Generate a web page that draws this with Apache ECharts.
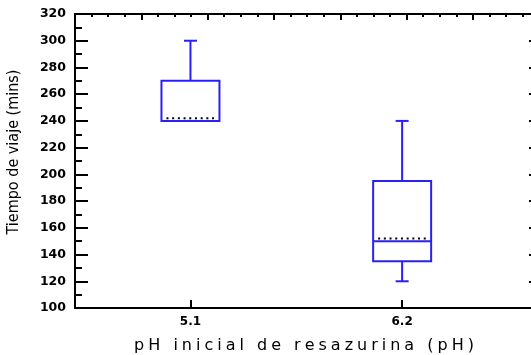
<!DOCTYPE html>
<html>
<head>
<meta charset="utf-8">
<script src="https://cdn.jsdelivr.net/npm/echarts@6/dist/echarts.min.js"></script>
<style>
  html, body { margin: 0; padding: 0; background: #fff; }
  #chart { width: 531px; height: 355px; }
</style>
</head>
<body>
<div id="chart"></div>
<script>
// Travel time by initial resazurin pH: box-and-whisker summary per group
const phGroups    = [5.1, 6.2];
const groupLabels = ['5.1', '6.2'];
const whiskerLow  = [240, 120];
const quartile1   = [240, 135];
const medians     = [240, 150];
const quartile3   = [270, 195];
const whiskerHigh = [300, 240];
const means       = [242, 152];

const yMin = 100, yMax = 320, yStep = 20;

const BLUE = '#2a1ff5';
const INK = '#000';
const labelFont = 'DejaVu Sans';

// spread the letters of a title apart
function spaced(str) {
  return str.split('').join('\u2005');
}

const boxData = phGroups.map((x, i) => [x, whiskerLow[i], quartile1[i], medians[i], quartile3[i], whiskerHigh[i], means[i]]);

function renderBox(params, api) {
  const x = api.value(0);
  const pLow = api.coord([x, api.value(1)]);
  const pQ1 = api.coord([x, api.value(2)]);
  const pMed = api.coord([x, api.value(3)]);
  const pQ3 = api.coord([x, api.value(4)]);
  const pHigh = api.coord([x, api.value(5)]);
  const pMean = api.coord([x, api.value(6)]);
  const cx = pMed[0];
  const halfW = 29, capW = 6.5, meanW = 24;
  const lineStyle = { stroke: BLUE, lineWidth: 2, fill: null };
  const children = [
    { type: 'line', shape: { x1: cx, y1: pQ3[1], x2: cx, y2: pHigh[1] }, style: lineStyle },
    { type: 'line', shape: { x1: cx - capW, y1: pHigh[1], x2: cx + capW, y2: pHigh[1] }, style: lineStyle },
    { type: 'line', shape: { x1: cx, y1: pQ1[1], x2: cx, y2: pLow[1] }, style: lineStyle },
    { type: 'line', shape: { x1: cx - capW, y1: pLow[1], x2: cx + capW, y2: pLow[1] }, style: lineStyle },
    { type: 'rect', shape: { x: cx - halfW, y: pQ3[1], width: halfW * 2, height: pQ1[1] - pQ3[1] }, style: { stroke: BLUE, lineWidth: 2, fill: 'none' } },
    { type: 'line', shape: { x1: cx - halfW, y1: pMed[1], x2: cx + halfW, y2: pMed[1] }, style: lineStyle },
    { type: 'line', shape: { x1: cx - meanW, y1: pMean[1], x2: cx + meanW, y2: pMean[1] },
      style: { stroke: INK, lineWidth: 2, lineDash: [2, 3.7] } }
  ];
  return { type: 'group', children };
}

const chart = echarts.init(document.getElementById('chart'), null, { renderer: 'canvas' });

chart.setOption({
  animation: false,
  backgroundColor: '#fff',
  grid: { left: 75, top: 14, width: 458, height: 294, outerBoundsMode: 'none', containLabel: false },
  xAxis: [
    {
      type: 'value',
      position: 'bottom',
      min: 4.5,
      max: 6.88,
      splitLine: { show: false },
      axisLine: { show: true, onZero: false, lineStyle: { color: INK, width: 2 } },
      axisTick: { show: true, inside: true, length: 8, customValues: phGroups, lineStyle: { color: INK, width: 2 } },
      axisLabel: {
        show: true,
        customValues: phGroups,
        formatter: v => groupLabels[phGroups.indexOf(v)] || '',
        margin: 8,
        color: INK,
        fontFamily: labelFont,
        fontWeight: 'bold',
        fontSize: 12
      },
      name: spaced('pH inicial de resazurina (pH)'),
      nameLocation: 'middle',
      nameGap: 30,
      nameTextStyle: { color: INK, fontFamily: labelFont, fontSize: 16 }
    },
    {
      type: 'value',
      position: 'top',
      min: 0,
      max: 6.905,
      interval: 1,
      splitLine: { show: false },
      axisLine: { show: true, onZero: false, lineStyle: { color: INK, width: 2 } },
      axisTick: { show: true, inside: true, length: 6, lineStyle: { color: INK, width: 2 } },
      minorTick: { show: true, splitNumber: 4, length: 3, lineStyle: { color: INK, width: 2 } },
      axisLabel: { show: false }
    }
  ],
  yAxis: [
    {
      type: 'value',
      position: 'left',
      min: yMin,
      max: yMax,
      interval: yStep,
      splitLine: { show: false },
      axisLine: { show: true, onZero: false, lineStyle: { color: INK, width: 2 } },
      axisTick: { show: true, inside: true, length: 13, lineStyle: { color: INK, width: 2 } },
      minorTick: { show: true, splitNumber: 2, length: 7, lineStyle: { color: INK, width: 2 } },
      axisLabel: { margin: 9, color: INK, fontFamily: labelFont, fontWeight: 'bold', fontSize: 12.5 }
    },
    {
      type: 'value',
      position: 'right',
      min: yMin,
      max: yMax,
      interval: yStep,
      splitLine: { show: false },
      axisLine: { show: true, onZero: false, lineStyle: { color: INK, width: 2 } },
      axisTick: { show: true, inside: true, length: 4, lineStyle: { color: INK, width: 2 } },
      axisLabel: { show: false }
    }
  ],
  graphic: [
    {
      type: 'text',
      x: 14,
      y: 152,
      rotation: Math.PI / 2,
      style: {
        text: 'Tiempo de viaje (mins)',
        fill: INK,
        font: '16px "DejaVu Sans Condensed", "DejaVu Sans"',
        align: 'center',
        verticalAlign: 'middle'
      }
    }
  ],
  series: [
    {
      type: 'custom',
      xAxisIndex: 0,
      yAxisIndex: 0,
      renderItem: renderBox,
      encode: { x: 0, y: [1, 2, 3, 4, 5, 6] },
      data: boxData,
      clip: false
    }
  ]
});
</script>
</body>
</html>
